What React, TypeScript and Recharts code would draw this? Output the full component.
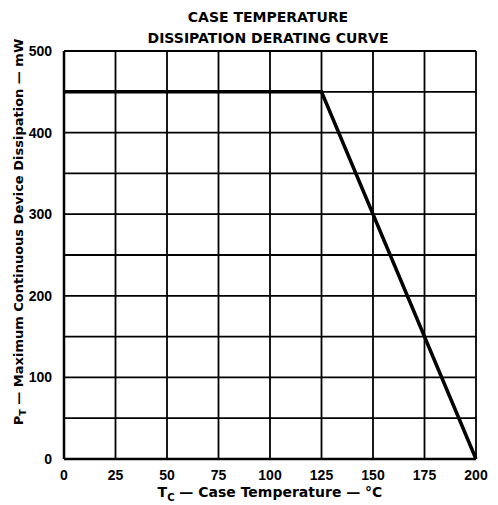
import React from "react";
import { LineChart, Line, XAxis, YAxis, CartesianGrid, Label } from "recharts";

const temperatures = [0, 125, 200];
const dissipation = [450, 450, 0];
const xTicks = [0, 25, 50, 75, 100, 125, 150, 175, 200];
const yTicks = [0, 50, 100, 150, 200, 250, 300, 350, 400, 450, 500];
const titleLines = ["CASE TEMPERATURE", "DISSIPATION DERATING CURVE"];

const data = temperatures.map((t, i) => ({ t, p: dissipation[i] }));

const FONT = "'DejaVu Sans', sans-serif";
const TICKFONT = "'Liberation Sans', Arial, sans-serif";

const XTitle = () => {
  return (
    <text x={270} y={497} textAnchor="middle" fontFamily={FONT} fontWeight={600} fontSize={14} fill="#000">
      <tspan>T</tspan>
      <tspan fontSize={10} dy={4}>C</tspan>
      <tspan dy={-4}>{"  — Case Temperature — °C"}</tspan>
    </text>
  );
};

const YTitle = () => {
  const cx = 18;
  const cy = 232;
  return (
    <text
      x={cx}
      y={cy}
      textAnchor="middle"
      dominantBaseline="central"
      transform={`rotate(-90, ${cx}, ${cy})`}
      fontFamily={FONT}
      fontWeight={600}
      fontSize={13}
      fill="#000"
    >
      <tspan>P</tspan>
      <tspan fontSize={9.5} dy={4}>T</tspan>
      <tspan dy={-4}>{"  — Maximum Continuous Device Dissipation — mW"}</tspan>
    </text>
  );
};

export default function App() {
  return (
    <div style={{ position: "absolute", left: 0, top: 0, width: 498, height: 505, background: "#fff" }}>
      <svg width={498} height={50} style={{ position: "absolute", left: 0, top: 0 }}>
        {titleLines.map((l, i) => (
          <text
            key={l}
            x={268}
            y={22 + i * 21}
            textAnchor="middle"
            fontFamily={FONT}
            fontWeight={600}
            fontSize={14}
            fill="#000"
          >
            {l}
          </text>
        ))}
      </svg>
      <LineChart
        width={498}
        height={505}
        data={data}
        margin={{ top: 51, right: 22, bottom: 16, left: 24 }}
        style={{ position: "absolute", left: 0, top: 0 }}
      >
        <CartesianGrid stroke="#000" strokeWidth={1.8} />
        <XAxis
          dataKey="t"
          type="number"
          domain={[0, 200]}
          ticks={xTicks}
          interval={0}
          height={30}
          tickLine={false}
          tickMargin={5}
          axisLine={{ stroke: "#000", strokeWidth: 2.5 }}
          tick={{ fill: "#000", fontFamily: TICKFONT, fontWeight: 700, fontSize: 14 }}
        >
          <Label content={<XTitle />} />
        </XAxis>
        <YAxis
          type="number"
          domain={[0, 500]}
          ticks={yTicks}
          interval={0}
          width={40}
          tickLine={false}
          tickMargin={6}
          axisLine={{ stroke: "#000", strokeWidth: 2.5 }}
          tickFormatter={(v: number) => (v % 100 === 0 ? String(v) : "")}
          tick={{ fill: "#000", fontFamily: TICKFONT, fontWeight: 700, fontSize: 14 }}
        >
          <Label content={<YTitle />} />
        </YAxis>
        <Line
          dataKey="p"
          stroke="#000"
          strokeWidth={3.5}
          dot={false}
          isAnimationActive={false}
          type="linear"
        />
      </LineChart>
    </div>
  );
}
